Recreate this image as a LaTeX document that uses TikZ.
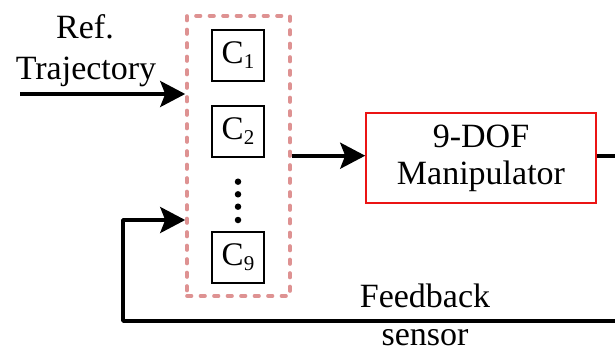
\documentclass[tikz,border=0pt]{standalone}
\usepackage{fontspec}
\setmainfont{Liberation Serif}
\usetikzlibrary{arrows.meta,calc}
\definecolor{grpred}{RGB}{222,146,146}
\definecolor{manred}{RGB}{235,20,20}
\tikzset{
  txt/.style={font=\fontsize{34}{40}\selectfont, inner sep=0pt, anchor=base},
  ctrl/.style={draw=black, line width=1.6pt, minimum width=52pt, minimum height=51pt,
               inner sep=0pt, font=\fontsize{33}{38}\selectfont},
  grpbox/.style={draw=grpred, line width=3.6pt, dash pattern=on 4.5pt off 9pt, line cap=round,
                 minimum width=103pt, minimum height=280pt, inner sep=0pt},
  plant/.style={draw=manred, line width=1.6pt, minimum width=230pt, minimum height=90pt,
                inner sep=0pt, align=center, font=\fontsize{34}{40}\selectfont},
  sig/.style={line width=3.6pt},
  sigarrow/.style={sig, -{Stealth[length=25pt,width=26pt,inset=5pt]}},
  dot/.style={circle, fill=black, inner sep=0pt, minimum size=6.5pt},
}
\newcommand{\ctl}[1]{C\raisebox{-5pt}{\fontsize{21}{21}\selectfont #1}}
\begin{document}
\begin{tikzpicture}[x=1pt,y=-1pt]
\useasboundingbox (0,0) rectangle (615,351);

% controller group
\node[grpbox] (grp) at (238.5,156) {};
\node[ctrl] (c1) at (238,55.5) {\ctl{1}};
\node[ctrl] (c2) at (238,131.5) {\ctl{2}};
\node[ctrl] (c9) at (238,257.5) {\ctl{9}};
\node[dot] (d1) at (238,181.7) {};
\node[dot] (d2) at (238,194.3) {};
\node[dot] (d3) at (238,206.7) {};
\node[dot] (d4) at (238,220) {};

% plant
\node[plant] (man) at (481,158) {9-DOF\\[-3pt]Manipulator};

% labels
\node[txt] (lref) at (85,38) {Ref.};
\node[txt] (ltraj) at (86,79) {Trajectory};
\node[txt] (lfb) at (425,307) {Feedback};
\node[txt] (lsen) at (425,345) {sensor};

% free ends of the signal lines
\coordinate (inL) at (20,94);
\coordinate (outR) at (617,155.7);
\coordinate (fbR) at (617,321);
\coordinate (fbL) at (123,321);

% signals
\draw[sigarrow] (inL) -- (grp.west |- inL);
\draw[sigarrow] (grp.east |- outR) -- (man.west |- outR);
\draw[sig] (man.east |- outR) -- (outR);
\draw[sigarrow, line join=round] (fbR) -- (fbL) |- (grp.west |- d4);
\end{tikzpicture}
\end{document}
